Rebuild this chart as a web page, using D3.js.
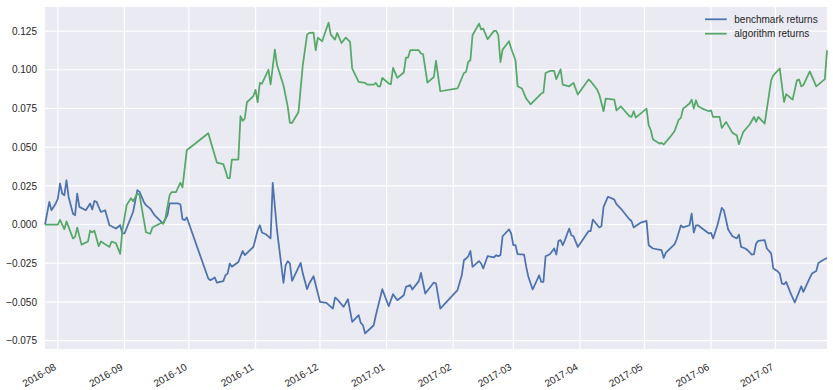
<!DOCTYPE html>
<html>
<head>
<meta charset="utf-8">
<script src="https://cdn.jsdelivr.net/npm/d3@7/dist/d3.min.js"></script>
<style>
	body { margin: 0; background: #fff; }
	svg text { font-family: "Liberation Sans", Arial, sans-serif; fill: #262626; }
</style>
</head>
<body>
<div id="chart"></div>
<script>
// series values
let benchDates = ["2016-07-26","2016-07-28","2016-07-29","2016-07-31","2016-08-01","2016-08-02","2016-08-03","2016-08-04","2016-08-05","2016-08-06",
	"2016-08-08","2016-08-09","2016-08-10","2016-08-11","2016-08-14","2016-08-16","2016-08-17","2016-08-18","2016-08-19","2016-08-21",
	"2016-08-23","2016-08-25","2016-08-28","2016-08-30","2016-08-31","2016-09-01","2016-09-05","2016-09-07","2016-09-08","2016-09-10",
	"2016-09-11","2016-09-13","2016-09-15","2016-09-19","2016-09-21","2016-09-22","2016-09-26","2016-09-27","2016-09-28","2016-09-29",
	"2016-09-30","2016-10-10","2016-10-11","2016-10-13","2016-10-14","2016-10-17","2016-10-18","2016-10-19","2016-10-20","2016-10-21",
	"2016-10-24","2016-10-26","2016-10-27","2016-10-31","2016-11-02","2016-11-03","2016-11-04","2016-11-06","2016-11-08","2016-11-09",
	"2016-11-11","2016-11-14","2016-11-15","2016-11-16","2016-11-17","2016-11-18","2016-11-22","2016-11-23","2016-11-25","2016-11-26",
	"2016-11-28","2016-12-01","2016-12-04","2016-12-07","2016-12-08","2016-12-09","2016-12-12","2016-12-14","2016-12-16","2016-12-19",
	"2016-12-20","2016-12-21","2016-12-22","2016-12-26","2016-12-27","2016-12-30","2017-01-02","2017-01-04","2017-01-06","2017-01-09",
	"2017-01-10","2017-01-12","2017-01-13","2017-01-16","2017-01-17","2017-01-19","2017-01-23","2017-01-24","2017-01-26","2017-02-03",
	"2017-02-05","2017-02-06","2017-02-07","2017-02-08","2017-02-09","2017-02-10","2017-02-13","2017-02-14","2017-02-15","2017-02-17",
	"2017-02-20","2017-02-21","2017-02-22","2017-02-23","2017-02-24","2017-02-27","2017-02-28","2017-03-01","2017-03-02","2017-03-03",
	"2017-03-06","2017-03-07","2017-03-08","2017-03-10","2017-03-13","2017-03-14","2017-03-15","2017-03-16","2017-03-18","2017-03-20",
	"2017-03-21","2017-03-22","2017-03-23","2017-03-24","2017-03-25","2017-03-27","2017-03-28","2017-03-29","2017-03-31","2017-04-05",
	"2017-04-06","2017-04-07","2017-04-10","2017-04-11","2017-04-12","2017-04-14","2017-04-15","2017-04-17","2017-04-18","2017-04-20",
	"2017-04-24","2017-04-25","2017-04-26","2017-04-29","2017-05-02","2017-05-03","2017-05-05","2017-05-09","2017-05-10","2017-05-11",
	"2017-05-15","2017-05-16","2017-05-18","2017-05-19","2017-05-22","2017-05-23","2017-05-24","2017-05-25","2017-05-26","2017-05-29",
	"2017-05-31","2017-06-01","2017-06-02","2017-06-04","2017-06-06","2017-06-07","2017-06-09","2017-06-11","2017-06-13","2017-06-14",
	"2017-06-15","2017-06-17","2017-06-18","2017-06-20","2017-06-21","2017-06-22","2017-06-23","2017-06-26","2017-06-27","2017-06-29",
	"2017-06-30","2017-07-02","2017-07-03","2017-07-04","2017-07-05","2017-07-06","2017-07-08","2017-07-10","2017-07-12","2017-07-13",
	"2017-07-14","2017-07-17","2017-07-18","2017-07-20","2017-07-21","2017-07-23","2017-07-25"];
let benchValues = [0.000,0.0146,0.0092,0.0136,0.0168,0.0265,0.0200,0.0189,0.0286,0.0178,
	0.0071,0.0060,0.0200,0.0114,0.0092,0.0136,0.0097,0.0152,0.0146,0.0081,
	0.0092,-0.0005,-0.0026,-0.0005,-0.0058,-0.0058,0.0081,0.0222,0.0211,0.0146,
	0.0125,0.0103,0.0060,0.0006,0.0060,0.0136,0.0136,0.0131,0.0034,0.0028,
	0.0045,-0.0349,-0.0360,-0.0342,-0.0375,-0.0366,-0.0328,-0.0317,-0.0252,-0.0273,
	-0.0242,-0.0171,-0.0198,-0.0145,-0.0037,-0.0005,-0.0052,-0.0065,-0.0090,0.0269,
	-0.0037,-0.0377,-0.0263,-0.0237,-0.0252,-0.0364,-0.0248,-0.0317,-0.0418,-0.0381,
	-0.0334,-0.0500,-0.0506,-0.0543,-0.0472,-0.0483,-0.0532,-0.0483,-0.0629,-0.0586,
	-0.0636,-0.0651,-0.0704,-0.0651,-0.0586,-0.0418,-0.0528,-0.0450,-0.0489,-0.0457,
	-0.0403,-0.0392,-0.0420,-0.0366,-0.0313,-0.0446,-0.0375,-0.0381,-0.0543,-0.0424,
	-0.0328,-0.0231,-0.0220,-0.0205,-0.0171,-0.0274,-0.0237,-0.0252,-0.0284,-0.0205,
	-0.0213,-0.0198,-0.0205,-0.0198,-0.0076,-0.0032,-0.0058,-0.0134,-0.0134,-0.0192,
	-0.0194,-0.0274,-0.0338,-0.0420,-0.0328,-0.0371,-0.0371,-0.0205,-0.0192,-0.0155,
	-0.0194,-0.0106,-0.0101,-0.0134,-0.0101,-0.0026,-0.0069,-0.0076,-0.0145,-0.0043,
	-0.0043,0.0032,-0.0019,-0.0011,0.0114,0.0178,0.0174,0.0161,0.0131,0.0103,
	0.0034,0.0023,-0.0019,0.0010,0.0023,-0.0134,-0.0155,-0.0166,-0.0216,-0.0181,
	-0.0129,-0.0097,-0.0005,-0.0019,-0.0005,0.0071,-0.0052,-0.0005,-0.0005,-0.0037,
	-0.0058,-0.0054,-0.0090,-0.0005,0.0107,0.0092,-0.0032,-0.0076,-0.0090,-0.0065,
	-0.0145,-0.0155,-0.0166,-0.0194,-0.0192,-0.0123,-0.0106,-0.0101,-0.0155,-0.0187,
	-0.0284,-0.0302,-0.0317,-0.0381,-0.0386,-0.0371,-0.0442,-0.0504,-0.0435,-0.0399,
	-0.0435,-0.0345,-0.0317,-0.0300,-0.0248,-0.0231,-0.0216];

let algoDates = ["2016-07-26","2016-08-01","2016-08-02","2016-08-04","2016-08-05","2016-08-08","2016-08-09","2016-08-10","2016-08-12","2016-08-15",
	"2016-08-16","2016-08-17","2016-08-18","2016-08-20","2016-08-21","2016-08-25","2016-08-26","2016-08-28","2016-08-30","2016-08-31",
	"2016-09-02","2016-09-04","2016-09-05","2016-09-07","2016-09-08","2016-09-10","2016-09-11","2016-09-13","2016-09-14","2016-09-18",
	"2016-09-19","2016-09-20","2016-09-22","2016-09-23","2016-09-25","2016-09-27","2016-09-28","2016-09-30","2016-10-10","2016-10-14",
	"2016-10-17","2016-10-18","2016-10-19","2016-10-20","2016-10-21","2016-10-24","2016-10-25","2016-10-26","2016-10-27","2016-10-28",
	"2016-10-31","2016-11-01","2016-11-02","2016-11-03","2016-11-04","2016-11-07","2016-11-08","2016-11-10","2016-11-11","2016-11-14",
	"2016-11-16","2016-11-17","2016-11-18","2016-11-21","2016-11-23","2016-11-25","2016-11-26","2016-11-28","2016-11-29","2016-11-30",
	"2016-12-02","2016-12-05","2016-12-06","2016-12-08","2016-12-09","2016-12-11","2016-12-13","2016-12-15","2016-12-16","2016-12-19",
	"2016-12-22","2016-12-23","2016-12-26","2016-12-27","2016-12-28","2016-12-29","2016-12-30","2017-01-02","2017-01-03","2017-01-04",
	"2017-01-06","2017-01-09","2017-01-10","2017-01-11","2017-01-12","2017-01-16","2017-01-17","2017-01-18","2017-01-20","2017-01-23",
	"2017-01-24","2017-01-26","2017-02-03","2017-02-06","2017-02-07","2017-02-08","2017-02-09","2017-02-10","2017-02-13","2017-02-14",
	"2017-02-15","2017-02-17","2017-02-20","2017-02-21","2017-02-22","2017-02-23","2017-02-24","2017-02-27","2017-02-28","2017-03-02",
	"2017-03-03","2017-03-05","2017-03-07","2017-03-09","2017-03-14","2017-03-15","2017-03-16","2017-03-18","2017-03-20","2017-03-21",
	"2017-03-23","2017-03-24","2017-03-27","2017-03-29","2017-03-31","2017-04-05","2017-04-06","2017-04-09","2017-04-10","2017-04-12",
	"2017-04-13","2017-04-17","2017-04-18","2017-04-20","2017-04-24","2017-04-25","2017-04-26","2017-04-27","2017-05-02","2017-05-03",
	"2017-05-04","2017-05-05","2017-05-08","2017-05-09","2017-05-10","2017-05-13","2017-05-15","2017-05-17","2017-05-18","2017-05-19",
	"2017-05-22","2017-05-23","2017-05-24","2017-05-25","2017-05-26","2017-05-28","2017-05-31","2017-06-01","2017-06-02","2017-06-05",
	"2017-06-06","2017-06-08","2017-06-11","2017-06-13","2017-06-14","2017-06-16","2017-06-19","2017-06-21","2017-06-22","2017-06-23",
	"2017-06-26","2017-06-29","2017-06-30","2017-07-03","2017-07-05","2017-07-06","2017-07-09","2017-07-11","2017-07-12","2017-07-13",
	"2017-07-14","2017-07-17","2017-07-20","2017-07-24","2017-07-25"];
let algoValues = [0.000,0.000,0.003,-0.003,0.002,-0.009,-0.008,-0.002,-0.013,-0.011,
	-0.004,-0.005,-0.004,-0.014,-0.011,-0.0145,-0.011,-0.012,-0.019,-0.004,
	0.0125,0.017,0.015,0.020,0.019,0.003,-0.005,-0.006,-0.002,0.001,
	0.0006,0.004,0.019,0.021,0.021,0.027,0.024,0.048,0.059,0.040,
	0.039,0.035,0.030,0.030,0.042,0.042,0.070,0.067,0.0685,0.079,
	0.083,0.087,0.079,0.0915,0.091,0.100,0.0906,0.113,0.103,0.090,
	0.076,0.0656,0.0656,0.0727,0.103,0.1227,0.1238,0.124,0.1126,0.1208,
	0.1184,0.1305,0.1227,0.1195,0.1238,0.1173,0.1208,0.118,0.1008,0.0921,
	0.0915,0.0904,0.0904,0.0915,0.0893,0.0893,0.0947,0.0911,0.0906,0.1012,
	0.0947,0.0982,0.1079,0.1079,0.1126,0.1126,0.1105,0.1100,0.0917,0.0953,
	0.1057,0.0861,0.0879,0.0979,0.0986,0.1050,0.1061,0.1223,0.1298,0.1260,
	0.1266,0.1197,0.1251,0.1251,0.1223,0.1050,0.1130,0.1184,0.1137,0.1061,
	0.0893,0.0879,0.0814,0.0777,0.0846,0.0853,0.0979,0.0992,0.0992,0.0939,
	0.1003,0.0904,0.0893,0.0915,0.0840,0.0937,0.0926,0.0872,0.0840,0.0732,
	0.0814,0.0807,0.0738,0.0764,0.0700,0.0695,0.0732,0.0691,0.0749,0.0641,
	0.0609,0.0549,0.0523,0.0527,0.0517,0.0566,0.0603,0.0678,0.0689,0.0749,
	0.0782,0.0807,0.0749,0.0803,0.0764,0.0749,0.0732,0.0738,0.0695,0.0695,
	0.0624,0.0663,0.0592,0.0577,0.0519,0.0598,0.0646,0.0695,0.0663,0.0695,
	0.0652,0.0932,0.0964,0.1008,0.0792,0.0842,0.0807,0.0932,0.0937,0.0893,
	0.0900,0.0990,0.0893,0.0939,0.1126];

let yTicks = [-0.075, -0.050, -0.025, 0.000, 0.025, 0.050, 0.075, 0.100, 0.125];
let seriesNames = ["benchmark returns", "algorithm returns"];
let seriesColors = ["#4C72B0", "#55A868"];

function createChart() {
	let canvasWidth		= 833;
	let canvasHeight	= 390;
	let margin			= { top: 7, right: 6, bottom: 41, left: 45 };
	let width			= canvasWidth - margin.left - margin.right;
	let height			= canvasHeight - margin.top - margin.bottom;

	let parse = d3.timeParse("%Y-%m-%d");
	let series = [
		benchDates.map((d, i) => ({ date: parse(d), value: benchValues[i] })),
		algoDates.map((d, i) => ({ date: parse(d), value: algoValues[i] }))
	];

	let allDates	= series.flat().map(o => o.date);
	let allValues	= series.flat().map(o => o.value);
	let vMin = d3.min(allValues), vMax = d3.max(allValues);
	let pad = (vMax - vMin) * 0.05;

	let x = d3.scaleTime().domain(d3.extent(allDates)).range([0, width]);
	let y = d3.scaleLinear().domain([vMin - pad, vMax + pad]).range([height, 0]);

	let svg = d3.select("#chart").append("svg")
		.attr("width", canvasWidth)
		.attr("height", canvasHeight)
		.append("g")
			.attr("transform", "translate(" + margin.left + "," + margin.top + ")");

	svg.append("rect")
		.attr("width", width)
		.attr("height", height)
		.attr("fill", "#EAEAF2");

	// grid
	let xTicks = x.ticks(d3.timeMonth.every(1));
	svg.append("g").selectAll("line").data(xTicks).enter().append("line")
		.attr("x1", d => x(d)).attr("x2", d => x(d))
		.attr("y1", 0).attr("y2", height)
		.attr("stroke", "#fff").attr("stroke-width", 1.2);
	svg.append("g").selectAll("line").data(yTicks).enter().append("line")
		.attr("x1", 0).attr("x2", width)
		.attr("y1", d => y(d)).attr("y2", d => y(d))
		.attr("stroke", "#fff").attr("stroke-width", 1.2);

	// axes
	let yAxis = svg.append("g")
		.call(d3.axisLeft(y).tickValues(yTicks).tickFormat(d3.format(".3f")).tickSize(0).tickPadding(8));
	yAxis.select(".domain").remove();
	yAxis.selectAll("text").attr("font-size", 10).attr("fill", "#262626");

	let xAxis = svg.append("g")
		.attr("transform", "translate(0," + height + ")")
		.call(d3.axisBottom(x).tickValues(xTicks).tickFormat(d3.timeFormat("%Y-%m")).tickSize(0));
	xAxis.select(".domain").remove();
	xAxis.selectAll("text")
		.attr("font-size", 10).attr("fill", "#262626")
		.attr("text-anchor", "end")
		.attr("dy", 0)
		.attr("transform", "translate(-1.5,20) rotate(-30)")
		.attr("y", 0);

	// lines
	let line = d3.line().x(d => x(d.date)).y(d => y(d.value));
	svg.append("g").selectAll("path").data(series).enter().append("path")
		.attr("d", line)
		.attr("fill", "none")
		.attr("stroke", (d, i) => seriesColors[i])
		.attr("stroke-width", 1.75)
		.attr("stroke-linejoin", "round");

	// legend
	let legend = svg.append("g").attr("transform", "translate(" + (width - 122) + ",12.3)");
	let items = legend.selectAll("g").data(seriesNames).enter().append("g")
		.attr("transform", (d, i) => "translate(0," + (i * 14.4) + ")");
	items.append("line")
		.attr("x1", 0).attr("x2", 21.7)
		.attr("stroke", (d, i) => seriesColors[i]).attr("stroke-width", 1.75);
	items.append("text")
		.attr("x", 29.3).attr("y", 3.6)
		.attr("font-size", 10)
		.text(d => d);
}

createChart();
</script>
</body>
</html>
